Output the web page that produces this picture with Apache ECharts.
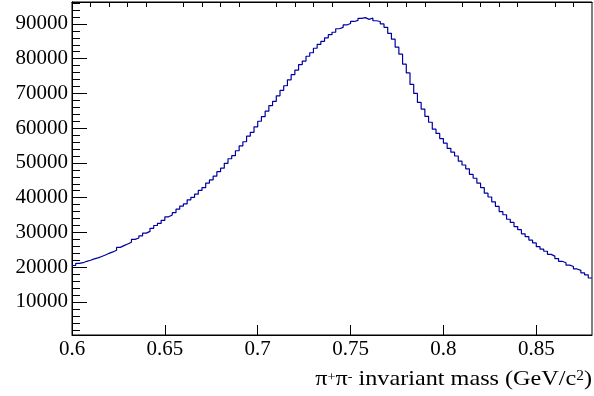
<!DOCTYPE html>
<html>
<head>
<meta charset="utf-8">
<script src="https://cdn.jsdelivr.net/npm/echarts@6/dist/echarts.min.js"></script>
<style>
html,body{margin:0;padding:0;background:#fff;}
#chart{width:594px;height:396px;}
</style>
</head>
<body>
<div id="chart"></div>
<script>
// Histogram: 140 bins of width 0.002 GeV/c^2 from 0.6 to 0.88
const xMin = 0.6;
const xMax = 0.88;
const binWidth = 0.002;
const counts = [
  20500, 21100, 21300, 21700, 22000, 22400, 22700, 23100, 23500, 24000,
  24400, 24900, 25700, 26200, 26700, 27200, 28000, 28400, 29000, 29800,
  30300, 31200, 32000, 32600, 33500, 34500, 35000, 35700, 36700, 37600,
  38200, 39400, 40100, 41000, 42100, 42900, 44200, 45100, 46200, 47500,
  48500, 49900, 51200, 52100, 53500, 54900, 56100, 57700, 58800, 60400,
  62000, 63300, 64900, 66500, 67700, 69300, 70900, 72200, 73900, 75400,
  76700, 78300, 79300, 80700, 81700, 83000, 84100, 85000, 86000, 86900,
  87600, 88600, 89000, 89700, 90100, 90700, 91000, 91600, 91800, 91300,
  91700, 90900, 90700, 90000, 89000, 87300, 85600, 83300, 81300, 78400,
  75900, 72600, 70000, 67400, 65500, 63400, 61700, 59700, 58500, 57000,
  55700, 54200, 53100, 52000, 50500, 49400, 48300, 46700, 45600, 44200,
  42900, 41300, 40200, 38800, 37500, 36000, 35100, 33800, 32900, 31700,
  30800, 29600, 28800, 27800, 27000, 25900, 25200, 24600, 23700, 23200,
  22500, 21700, 21300, 20600, 20200, 19500, 19100, 18400, 17800, 16900
];
const yMin = 500;
const yMax = 96300;
const xMajorTicks = [0.6, 0.65, 0.7, 0.75, 0.8, 0.85];
const xMinorTicks = [0.61, 0.62, 0.63, 0.64, 0.66, 0.67, 0.68, 0.69, 0.71, 0.72, 0.73, 0.74,
  0.76, 0.77, 0.78, 0.79, 0.81, 0.82, 0.83, 0.84, 0.86, 0.87];
const yMajorTicks = [10000, 20000, 30000, 40000, 50000, 60000, 70000, 80000, 90000];
const yMinorTicks = [2000, 4000, 6000, 8000, 12000, 14000, 16000, 18000, 22000, 24000, 26000, 28000,
  32000, 34000, 36000, 38000, 42000, 44000, 46000, 48000, 52000, 54000, 56000, 58000,
  62000, 64000, 66000, 68000, 72000, 74000, 76000, 78000, 82000, 84000, 86000, 88000,
  92000, 94000, 96000];

// Step path: each bin's low edge carries its count; final point closes the last bin.
const stepData = counts.map((c, i) => [xMin + i * binWidth, c]);
stepData.push([xMin + counts.length * binWidth, counts[counts.length - 1]]);

const FONT = '"Liberation Serif", "Times New Roman", serif';
const chart = echarts.init(document.getElementById('chart'), null, {renderer: 'canvas'});

const baseX = {
  type: 'value', min: xMin, max: xMax,
  splitLine: {show: false},
  axisLine: {show: true, onZero: false, lineStyle: {color: '#000', width: 1}}
};
const baseY = {
  type: 'value', min: yMin, max: yMax,
  splitLine: {show: false},
  axisLine: {show: true, onZero: false, lineStyle: {color: '#000', width: 1}}
};

chart.setOption({
  animation: false,
  backgroundColor: '#ffffff',
  grid: {left: 72, right: 2, top: 2, bottom: 61, show: true, borderColor: '#000', borderWidth: 1, backgroundColor: 'transparent'},
  xAxis: [
    Object.assign({}, baseX, {
      axisTick: {show: true, inside: true, length: 10, customValues: xMajorTicks, lineStyle: {color: '#000'}},
      axisLabel: {show: true, customValues: xMajorTicks, margin: 4, color: '#000', fontFamily: FONT, fontSize: 21,
        formatter: v => String(+v.toFixed(2))}
    }),
    Object.assign({}, baseX, {
      axisTick: {show: true, inside: true, length: 5, customValues: xMinorTicks, lineStyle: {color: '#000'}},
      axisLabel: {show: false}
    })
  ],
  yAxis: [
    Object.assign({}, baseY, {
      axisTick: {show: true, inside: true, length: 15, customValues: yMajorTicks, lineStyle: {color: '#000'}},
      axisLabel: {show: true, customValues: yMajorTicks, margin: 4, color: '#000', fontFamily: FONT, fontSize: 21,
        padding: [3, 0, 0, 0],
        formatter: v => String(v)}
    }),
    Object.assign({}, baseY, {
      position: 'left',
      axisTick: {show: true, inside: true, length: 8, customValues: yMinorTicks, lineStyle: {color: '#000'}},
      axisLabel: {show: false}
    })
  ],
  series: [{
    type: 'line',
    xAxisIndex: 0, yAxisIndex: 0,
    step: 'end',
    data: stepData,
    showSymbol: false,
    symbol: 'none',
    lineStyle: {color: '#0000a0', width: 1.2},
    silent: true
  }],
  graphic: [{
    type: 'text',
    x: 592,
    y: 365,
    originX: 0,
    scaleX: 1.1,
    style: {
      text: '{a|π}{s|+}{a|π}{s|-}{a| invariant mass (GeV/c}{t|2}{a|)}',
      align: 'right',
      fill: '#000',
      rich: {
        a: {fontFamily: FONT, fontSize: 22, lineHeight: 25, fill: '#000', verticalAlign: 'bottom'},
        s: {fontFamily: FONT, fontSize: 13, lineHeight: 13, fill: '#000', verticalAlign: 'top', padding: [6, 0, 0, 0]},
        t: {fontFamily: FONT, fontSize: 14, lineHeight: 14, fill: '#000', verticalAlign: 'top', padding: [4, 0, 0, 0]}
      }
    }
  }]
});
</script>
</body>
</html>
